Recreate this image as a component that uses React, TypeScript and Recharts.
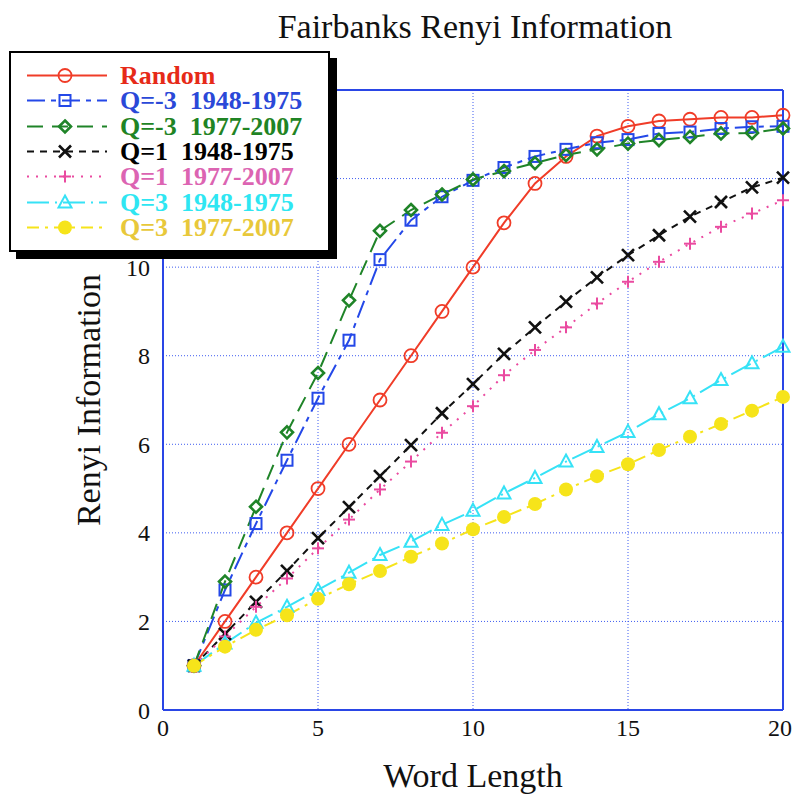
import React from "react";
import { LineChart, Line, XAxis, YAxis, CartesianGrid, Legend, Label } from "recharts";

// word length (x) and Renyi information per series
const wordLength = [1, 2, 3, 4, 5, 6, 7, 8, 9, 10, 11, 12, 13, 14, 15, 16, 17, 18, 19, 20];
const randomInfo = [1, 2, 3, 4, 5, 6, 7, 8, 9, 10, 11, 11.89, 12.5, 12.96, 13.18, 13.3, 13.34, 13.38, 13.38, 13.43];
const qNeg3Early = [1, 2.71, 4.21, 5.64, 7.04, 8.35, 10.17, 11.06, 11.59, 11.96, 12.25, 12.5, 12.66, 12.81, 12.88, 13.02, 13.05, 13.13, 13.17, 13.18];
const qNeg3Late = [1, 2.9, 4.59, 6.27, 7.61, 9.25, 10.82, 11.29, 11.64, 11.98, 12.17, 12.35, 12.53, 12.66, 12.79, 12.87, 12.94, 13.02, 13.03, 13.13];
const q1Early = [1, 1.72, 2.44, 3.14, 3.88, 4.58, 5.28, 5.98, 6.7, 7.36, 8.04, 8.64, 9.22, 9.77, 10.27, 10.72, 11.14, 11.47, 11.8, 12.02];
const q1Late = [1, 1.66, 2.33, 2.97, 3.65, 4.3, 4.98, 5.61, 6.26, 6.86, 7.56, 8.13, 8.64, 9.18, 9.67, 10.12, 10.53, 10.91, 11.21, 11.51];
const q3Early = [1, 1.5, 1.97, 2.33, 2.71, 3.1, 3.5, 3.8, 4.18, 4.5, 4.89, 5.24, 5.61, 5.94, 6.28, 6.68, 7.04, 7.45, 7.83, 8.2];
const q3Late = [1, 1.43, 1.81, 2.14, 2.51, 2.84, 3.14, 3.46, 3.76, 4.08, 4.36, 4.65, 4.98, 5.28, 5.55, 5.87, 6.17, 6.46, 6.76, 7.07];

const xTicks = [0, 5, 10, 15, 20];
const yTicks = [0, 2, 4, 6, 8, 10, 12, 14];
const xInnerTicks = [5, 10, 15];
const yInnerTicks = [2, 4, 6, 8, 10, 12];
// labels above 10 sit under the legend box
const yLabelMax = 10;

const FONT = "'Liberation Serif', 'Times New Roman', serif";
const AXIS_BLUE = "#2a46e6";
const GRID_BLUE = "#3f5cf0";

type Shape = "circle" | "square" | "diamond" | "cross" | "plus" | "triangle" | "dot";

interface SeriesDef {
  key: string;
  label: string;
  color: string;
  text: string;
  dash?: string;
  shape: Shape;
}

const SERIES: SeriesDef[] = [
  { key: "random", label: "Random", color: "#f03c28", text: "#e62a18", shape: "circle" },
  { key: "qNeg3Early", label: "Q=-3  1948-1975", color: "#2448e8", text: "#2a48d8", dash: "18 6 5 6", shape: "square" },
  { key: "qNeg3Late", label: "Q=-3  1977-2007", color: "#1f8428", text: "#1f8424", dash: "16 9", shape: "diamond" },
  { key: "q1Early", label: "Q=1  1948-1975", color: "#111111", text: "#000000", dash: "7 6", shape: "cross" },
  { key: "q1Late", label: "Q=1  1977-2007", color: "#ea4aa0", text: "#dc64b2", dash: "2 7", shape: "plus" },
  { key: "q3Early", label: "Q=3  1948-1975", color: "#36e2f6", text: "#2ee6f2", dash: "22 6 2 6", shape: "triangle" },
  { key: "q3Late", label: "Q=3  1977-2007", color: "#f6e41a", text: "#e8c83a", dash: "12 6 3 6", shape: "dot" },
];

const rows = wordLength.map((w, i) => ({
  w,
  random: randomInfo[i],
  qNeg3Early: qNeg3Early[i],
  qNeg3Late: qNeg3Late[i],
  q1Early: q1Early[i],
  q1Late: q1Late[i],
  q3Early: q3Early[i],
  q3Late: q3Late[i],
}));

function Marker({ shape, color, cx, cy }: { shape: Shape; color: string; cx: number; cy: number }) {
  switch (shape) {
    case "circle":
      return <circle cx={cx} cy={cy} r={6.5} fill="none" stroke={color} strokeWidth={1.8} />;
    case "square":
      return <rect x={cx - 5.5} y={cy - 5.5} width={11} height={11} fill="none" stroke={color} strokeWidth={2} />;
    case "diamond":
      return (
        <polygon
          points={`${cx},${cy - 6} ${cx + 6},${cy} ${cx},${cy + 6} ${cx - 6},${cy}`}
          fill="none"
          stroke={color}
          strokeWidth={2.6}
        />
      );
    case "cross":
      return (
        <g stroke={color} strokeWidth={2.6}>
          <line x1={cx - 6} y1={cy - 6} x2={cx + 6} y2={cy + 6} />
          <line x1={cx - 6} y1={cy + 6} x2={cx + 6} y2={cy - 6} />
        </g>
      );
    case "plus":
      return (
        <g stroke={color} strokeWidth={2}>
          <line x1={cx - 6} y1={cy} x2={cx + 6} y2={cy} />
          <line x1={cx} y1={cy - 6} x2={cx} y2={cy + 6} />
        </g>
      );
    case "triangle":
      return (
        <polygon
          points={`${cx},${cy - 7} ${cx + 6.5},${cy + 5} ${cx - 6.5},${cy + 5}`}
          fill="none"
          stroke={color}
          strokeWidth={2}
        />
      );
    default:
      return <circle cx={cx} cy={cy} r={7} fill={color} stroke="none" />;
  }
}

function renderLegend() {
  return (
    <div
      style={{
        width: 321,
        height: 201,
        boxSizing: "border-box",
        background: "#fff",
        border: "2px solid #000",
        boxShadow: "7px 7px 0 #000",
        paddingTop: 10,
      }}
    >
      {SERIES.map((s) => (
        <div key={s.key} style={{ display: "flex", alignItems: "center", height: 25.33 }}>
          <svg width={109} height={25} style={{ flex: "none" }}>
            <line x1={16} y1={12.5} x2={96} y2={12.5} stroke={s.color} strokeWidth={2} strokeDasharray={s.dash} />
            <Marker shape={s.shape} color={s.color} cx={54} cy={12.5} />
          </svg>
          <span
            style={{
              fontFamily: FONT,
              fontWeight: 700,
              fontSize: 26,
              lineHeight: "25px",
              color: s.text,
              whiteSpace: "pre",
            }}
          >
            {s.label}
          </span>
        </div>
      ))}
    </div>
  );
}

export default function App() {
  const tickStyle = { fontSize: 24, fontFamily: FONT, fill: "#111" };
  const edge = { stroke: AXIS_BLUE, strokeWidth: 2 };

  return (
    <div style={{ position: "absolute", left: 0, top: 0, width: 792, height: 794, background: "#fff" }}>
      <LineChart width={792} height={794} data={rows} margin={{ top: 90, right: 9, bottom: 0, left: 13 }}>
        <CartesianGrid stroke={GRID_BLUE} strokeDasharray="1 2" />
        <XAxis
          dataKey="w"
          type="number"
          domain={[0, 20]}
          ticks={xTicks}
          height={84}
          tickLine={false}
          tickSize={0}
          tickMargin={9}
          axisLine={edge}
          tick={tickStyle}
        >
          <Label
            value="Word Length"
            position="insideBottom"
            offset={7}
            style={{ fontSize: 34, fontFamily: FONT, fill: "#111" }}
          />
        </XAxis>
        <XAxis xAxisId="bottomIn" dataKey="w" type="number" domain={[0, 20]} ticks={xInnerTicks} mirror tick={false} tickSize={10} tickLine={edge} axisLine={false} />
        <XAxis xAxisId="top" orientation="top" dataKey="w" type="number" domain={[0, 20]} ticks={xInnerTicks} mirror tick={false} tickSize={10} tickLine={edge} axisLine={edge} />
        <YAxis
          type="number"
          domain={[0, 14]}
          ticks={yTicks}
          width={150}
          tickLine={false}
          tickSize={0}
          tickMargin={13}
          axisLine={edge}
          tick={tickStyle}
          tickFormatter={(v: number) => (v > yLabelMax ? "" : String(v))}
        >
          <Label
            value="Renyi Information"
            angle={-90}
            position="center"
            style={{ fontSize: 34, fontFamily: FONT, fill: "#111" }}
          />
        </YAxis>
        <YAxis yAxisId="leftIn" type="number" domain={[0, 14]} ticks={yInnerTicks} mirror tick={false} tickSize={10} tickLine={edge} axisLine={false} />
        <YAxis yAxisId="right" orientation="right" type="number" domain={[0, 14]} ticks={yInnerTicks} mirror tick={false} tickSize={10} tickLine={edge} axisLine={edge} />
        {SERIES.map((s) => (
          <Line
            key={s.key}
            dataKey={s.key}
            stroke={s.color}
            strokeWidth={2}
            strokeDasharray={s.dash}
            isAnimationActive={false}
            activeDot={false}
            dot={(p: any) => (
              <Marker key={`${s.key}-${p.index}`} shape={s.shape} color={s.color} cx={p.cx} cy={p.cy} />
            )}
          />
        ))}
        <Legend
          layout="horizontal"
          verticalAlign="middle"
          align="center"
          content={renderLegend}
          wrapperStyle={{ left: 9, top: 51, width: 321, height: 201 }}
        />
      </LineChart>
      <div
        style={{
          position: "absolute",
          left: 175,
          top: 10,
          width: 600,
          textAlign: "center",
          fontFamily: FONT,
          fontSize: 34,
          lineHeight: 1,
          color: "#111",
        }}
      >
        Fairbanks Renyi Information
      </div>
    </div>
  );
}
